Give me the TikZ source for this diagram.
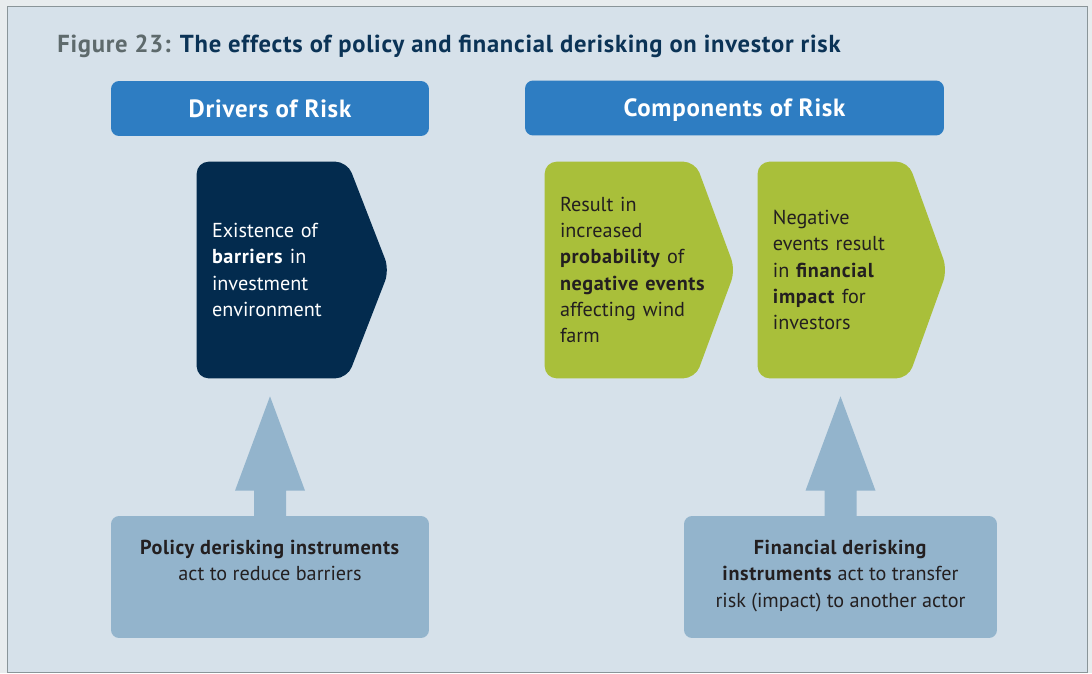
\documentclass[tikz,border=0pt]{standalone}
\usepackage{fontspec}
\setmainfont{PT Sans}[BoldFeatures={LetterSpace=3}]
\usetikzlibrary{positioning,calc,backgrounds}

\definecolor{outerbg}{HTML}{E8ECEE}
\definecolor{panelbg}{HTML}{D6E1EA}
\definecolor{framegray}{HTML}{8A9599}
\definecolor{headblue}{HTML}{2E7DC2}
\definecolor{navy}{HTML}{032B4E}
\definecolor{leafgreen}{HTML}{A9BF3A}
\definecolor{steel}{HTML}{93B4CC}
\definecolor{ink}{HTML}{231F20}
\definecolor{figgray}{HTML}{5E6A6C}
\definecolor{titlenavy}{HTML}{0B3356}

\begin{document}
\begin{tikzpicture}[x=0.02cm,y=-0.02cm,node distance=.9cm,
  riskhead/.style={fill=headblue,rounded corners=0.16cm,minimum height=1.1cm,text depth=0pt,text=white,font=\fontsize{14.2}{17}\selectfont\bfseries},
  risk/.style={minimum height=4.32cm,inner xsep=0.3cm,inner ysep=0pt,text width=2.4cm,align=left,font=\fontsize{11.5}{15}\selectfont},
  pent/.style={rounded corners=0.24cm},
  lowbox/.style={fill=steel,rounded corners=0.16cm,minimum height=2.44cm},
  lowtext/.style={inner sep=0pt,align=center,text=ink,font=\fontsize{11.5}{15}\selectfont},
  fat/.style={fill=steel}]
\useasboundingbox (0,0) rectangle (1092,673);
\begin{scope}[on background layer]
\fill[outerbg] (0,0) rectangle (1092,673);
\filldraw[fill=panelbg,draw=framegray,line width=0.02cm] (7,6) rectangle (1087,672);
\end{scope}

\node[anchor=base west,inner sep=0pt,font=\fontsize{14}{16}\selectfont\bfseries] (title) at (57,52) {\textcolor{figgray}{Figure 23:} \textcolor{titlenavy}{The effects of policy and financial derisking on investor risk}};

\node[riskhead,minimum width=6.36cm] (drivers) at (270,108.5) {Drivers of Risk};
\node[riskhead,minimum width=8.38cm] (components) at (734.5,108) {Components of Risk};

\node[risk,text=white] (barr) at (272,270) {Existence~of\\\textbf{barriers}~in\\investment\\environment};
\node[risk,text=ink] (prob) at (620,270) {Result~in\\increased\\\textbf{probability}~of\\\textbf{negative~events}\\affecting~wind\\farm};
\node[risk,text=ink,right of=prob,xshift=3.36cm] (impact) {Negative\\events~result\\in~\textbf{financial}\\\textbf{impact}~for\\investors};

\begin{scope}[on background layer]
\fill[navy,pent] (barr.north west) -- (barr.north east) -- ($(barr.east)+(42,0)$) -- (barr.south east) -- (barr.south west) -- cycle;
\fill[leafgreen,pent] (prob.north west) -- (prob.north east) -- ($(prob.east)+(40,0)$) -- (prob.south east) -- (prob.south west) -- cycle;
\fill[leafgreen,pent] (impact.north west) -- (impact.north east) -- ($(impact.east)+(39,0)$) -- (impact.south east) -- (impact.south west) -- cycle;
\end{scope}

\node[lowbox,minimum width=6.36cm] (pol) at (270,577) {};
\node[lowtext,below=0.48cm of pol.north] (poltext) {\textbf{Policy derisking instruments}\\act to reduce barriers};
\node[lowbox,minimum width=6.26cm] (fin) at (840.5,577) {};
\node[lowtext,below=0.48cm of fin.north] (fintext) {\textbf{Financial derisking}\\\textbf{instruments} act to transfer\\risk (impact) to another actor};

% fat arrows up from the instruments
\fill[fat] ($(pol.north)+(-16,1)$) -- ($(pol.north)+(-16,-25)$) -- ($(pol.north)+(-35,-25)$) -- ($(pol.north |- barr.south)+(0,18)$) -- ($(pol.north)+(35,-25)$) -- ($(pol.north)+(16,-25)$) -- ($(pol.north)+(16,1)$) -- cycle;
\fill[fat] ($(fin.north)+(-16,1)$) -- ($(fin.north)+(-16,-25)$) -- ($(fin.north)+(-35,-25)$) -- ($(fin.north |- impact.south)+(0,18)$) -- ($(fin.north)+(35,-25)$) -- ($(fin.north)+(16,-25)$) -- ($(fin.north)+(16,1)$) -- cycle;
\end{tikzpicture}
\end{document}
